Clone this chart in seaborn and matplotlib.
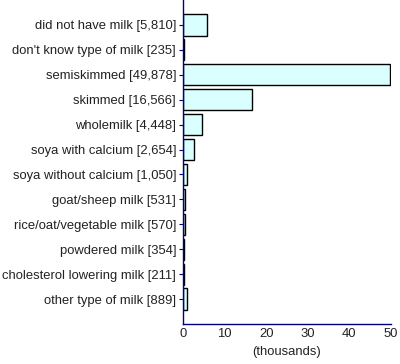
import matplotlib
matplotlib.use("Agg")
import matplotlib.pyplot as plt
import pandas as pd
import seaborn as sns

categories = ["did not have milk", "don't know type of milk", "semiskimmed",
              "skimmed", "wholemilk", "soya with calcium", "soya without calcium",
              "goat/sheep milk", "rice/oat/vegetable milk", "powdered milk",
              "cholesterol lowering milk", "other type of milk"]
counts = [5810, 235, 49878, 16566, 4448, 2654, 1050, 531, 570, 354, 211, 889]
x_ticks = [0, 10, 20, 30, 40, 50]

labels = [f"{c} [{n:,}]" for c, n in zip(categories, counts)]
df = pd.DataFrame({"label": labels, "value": [n / 1000 for n in counts]})

sns.set_style("white")
plt.rcParams["font.family"] = ["Liberation Sans", "DejaVu Sans"]
fs = 9.4

fig = plt.figure(figsize=(4.0, 3.64), dpi=100)
ax = fig.add_axes([0.4575, 0.11, 0.52, 0.89])

sns.barplot(data=df, x="value", y="label", orient="h", color="#d9ffff",
            edgecolor="black", linewidth=1, width=0.85, saturation=1, ax=ax)

navy = "#000080"
ax.set_xlim(0, 50)
ax.set_ylim(len(labels), -1)
ax.set_xticks(x_ticks)
ax.set_xlabel("(thousands)", fontsize=fs, color="#222222", labelpad=4)
ax.set_ylabel("")
for s in ["top", "right"]:
    ax.spines[s].set_visible(False)
for s in ["left", "bottom"]:
    ax.spines[s].set_color(navy)
    ax.spines[s].set_linewidth(1)
ax.tick_params(axis="x", length=0, pad=3, labelsize=fs, labelcolor="#222222")
ax.tick_params(axis="y", length=3, width=0.8, color=navy, pad=2,
               labelsize=fs, labelcolor="#222222", left=True)

fig.savefig("out.png", dpi=100)
